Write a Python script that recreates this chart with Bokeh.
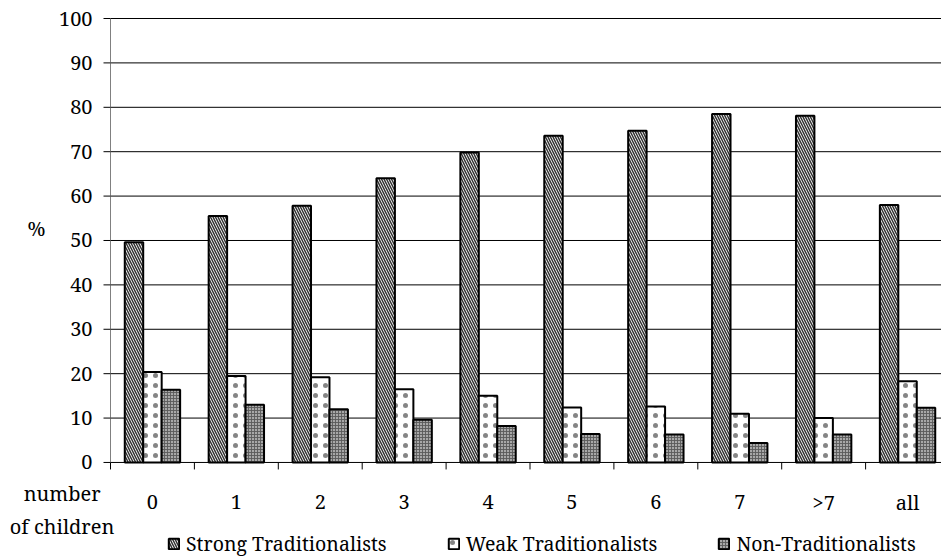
from bokeh.plotting import figure
from bokeh.models import Range1d, Legend, LegendItem, ColumnDataSource
from bokeh.core.properties import value
from bokeh.embed import file_html
from bokeh.resources import INLINE

# Share of each attitude group by number of children (%)
categories = ["0", "1", "2", "3", "4", "5", "6", "7", ">7", "all"]
strong = [49.6, 55.5, 57.8, 64.0, 69.8, 73.6, 74.7, 78.5, 78.1, 58.0]
weak = [20.4, 19.5, 19.2, 16.5, 15.0, 12.4, 12.6, 11.0, 10.0, 18.3]
non_trad = [16.4, 13.0, 12.0, 9.6, 8.2, 6.4, 6.3, 4.4, 6.3, 12.3]
y_ticks = list(range(0, 101, 10))
y_tick_labels = [str(t) for t in y_ticks]

FONT = "Noto Serif"
FS = "20px"
LEGEND_FS = "19.5px"

W, H = 941, 559
LEFT = 110          # pixel column of the value axis
PX_PER_CAT = 83.9   # pixel width of one category slot
n = len(categories)
centers = [i + 0.5 for i in range(n)]
bounds = list(range(0, n))
bar_w = 0.22
x_start = -LEFT / PX_PER_CAT
x_end = (W - LEFT) / PX_PER_CAT
px = 1 / PX_PER_CAT            # one pixel in x data units
py = 100 / 443.8               # one pixel in y data units
y_start = -(H - 462) * py
y_end = 100 + 18 * py

# one frame covering the whole canvas; axes are drawn as glyphs
p = figure(width=W, height=H, output_backend="svg", toolbar_location=None,
           x_range=Range1d(x_start, x_end), y_range=Range1d(y_start, y_end),
           min_border=0)
p.outline_line_color = None
p.background_fill_color = "white"
p.border_fill_color = "white"
p.xaxis.visible = False
p.yaxis.visible = False
p.grid.visible = False

# horizontal grid lines
p.segment(x0=[0] * len(y_ticks), y0=y_ticks, x1=[x_end] * len(y_ticks), y1=y_ticks,
          line_color="black", line_width=1)

r1 = p.vbar(x=[c - bar_w for c in centers], top=strong, width=bar_w, bottom=0,
            fill_color="white", line_color="black", line_width=2,
            hatch_pattern="\\", hatch_scale=5, hatch_weight=1.5, hatch_color="#333333")
r2 = p.vbar(x=centers, top=weak, width=bar_w, bottom=0,
            fill_color="white", line_color="black", line_width=2,
            hatch_pattern=".", hatch_scale=10, hatch_weight=0.3, hatch_color="#666666",
            hatch_alpha=0.8)
r3 = p.vbar(x=[c + bar_w for c in centers], top=non_trad, width=bar_w, bottom=0,
            fill_color="#a8a8a8", line_color="black", line_width=2,
            hatch_pattern="+", hatch_scale=3, hatch_weight=0.9, hatch_color="#5a5a5a")

# value axis
p.segment(x0=[0], y0=[0], x1=[0], y1=[100], line_color="#808080", line_width=1)
p.segment(x0=[-7 * px] * len(y_ticks), y0=y_ticks, x1=[0] * len(y_ticks), y1=y_ticks,
          line_color="black", line_width=1)
ytick_src = ColumnDataSource(dict(x=[-18 * px] * len(y_ticks), y=y_ticks, text=y_tick_labels))
p.text(x="x", y="y", text="text", source=ytick_src, text_font=value(FONT),
       text_font_size=FS, text_align="right", text_baseline="middle", text_color="black")

# category axis: tick marks at the boundaries, labels at the centres
p.segment(x0=bounds, y0=[0] * n, x1=bounds, y1=[-7 * py] * n, line_color="black", line_width=1)
cat_src = ColumnDataSource(dict(x=centers, y=[-9.0] * n, text=categories))
p.text(x="x", y="y", text="text", source=cat_src, text_font=value(FONT),
       text_font_size=FS, text_align="center", text_baseline="alphabetic",
       text_color="black")

# axis titles
title_src = ColumnDataSource(dict(x=[-74 * px, -48.4 * px, -48.4 * px],
                                  y=[52.6, -7.0, -14.5],
                                  text=["%", "number", "of children"]))
p.text(x="x", y="y", text="text", source=title_src, text_font=value(FONT),
       text_font_size=FS, text_align="center", text_baseline="alphabetic",
       text_color="black")

legend = Legend(items=[LegendItem(label="Strong Traditionalists", renderers=[r1]),
                       LegendItem(label="Weak Traditionalists", renderers=[r2]),
                       LegendItem(label="Non-Traditionalists", renderers=[r3])],
                orientation="horizontal", location=(167, 2),
                glyph_width=13, glyph_height=13, label_standoff=6, spacing=60,
                label_text_font=FONT, label_text_font_size=LEGEND_FS, label_text_color="black",
                padding=0, margin=0, border_line_color=None, background_fill_alpha=0)
p.add_layout(legend, "center")

open("out.html", "w").write(file_html(p, INLINE))
